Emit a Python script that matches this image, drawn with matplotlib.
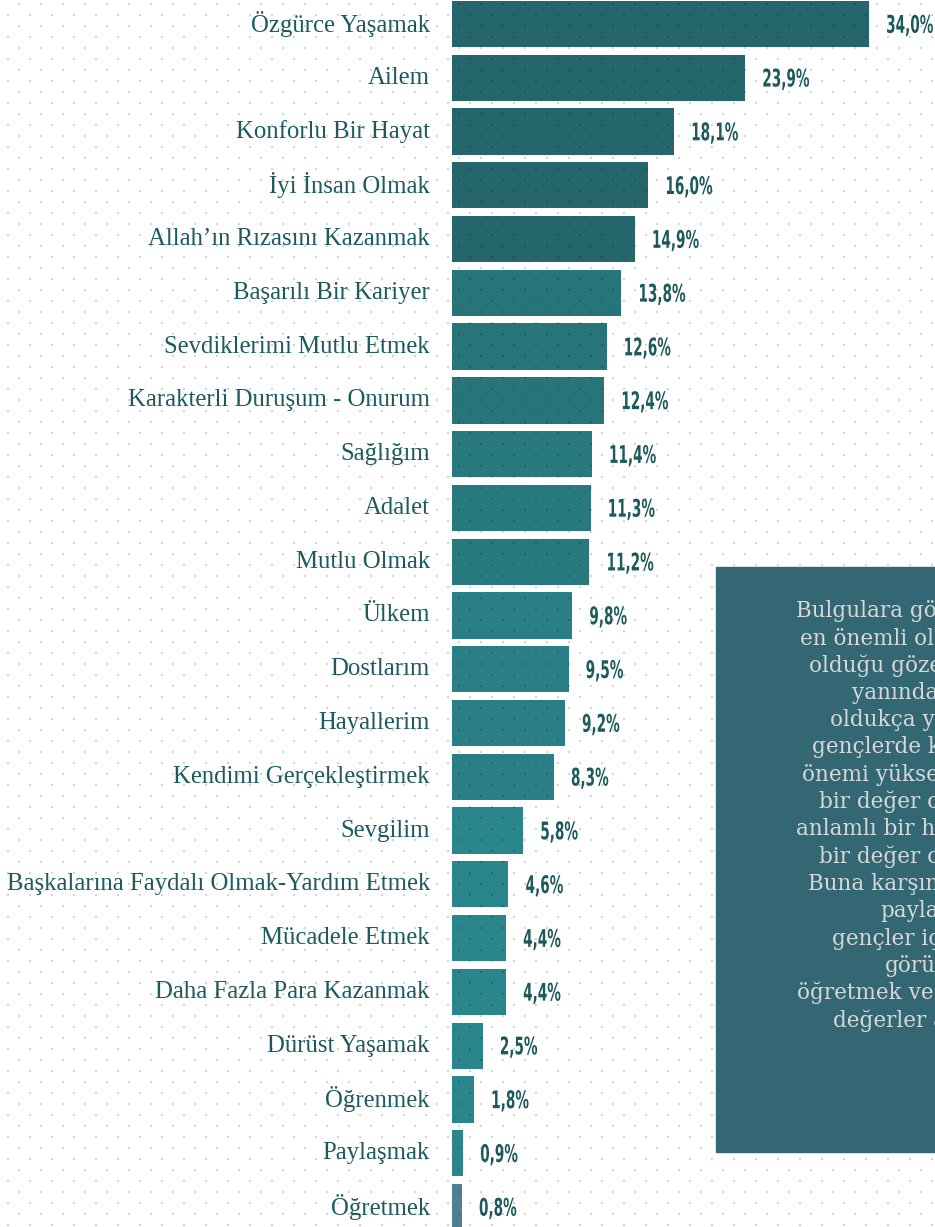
import numpy as np
import matplotlib.pyplot as plt
import matplotlib.transforms as mtransforms
from matplotlib.patches import Rectangle, PathPatch
from matplotlib.textpath import TextPath
from matplotlib.font_manager import FontProperties

labels = ['Özgürce Yaşamak', 'Ailem', 'Konforlu Bir Hayat', 'İyi İnsan Olmak',
          'Allah’ın Rızasını Kazanmak', 'Başarılı Bir Kariyer', 'Sevdiklerimi Mutlu Etmek',
          'Karakterli Duruşum - Onurum', 'Sağlığım', 'Adalet', 'Mutlu Olmak', 'Ülkem',
          'Dostlarım', 'Hayallerim', 'Kendimi Gerçekleştirmek', 'Sevgilim',
          'Başkalarına Faydalı Olmak-Yardım Etmek', 'Mücadele Etmek',
          'Daha Fazla Para Kazanmak', 'Dürüst Yaşamak', 'Öğrenmek', 'Paylaşmak', 'Öğretmek']
values = [34.0, 23.9, 18.1, 16.0, 14.9, 13.8, 12.6, 12.4, 11.4, 11.3, 11.2, 9.8,
          9.5, 9.2, 8.3, 5.8, 4.6, 4.4, 4.4, 2.5, 1.8, 0.9, 0.8]
colors = ['#24666b'] * 5 + ['#27747a'] * 3 + ['#28797e'] * 3 + ['#2a7f86'] * 4 \
         + ['#2b858d'] * 7 + ['#4e8190']

box_lines = ['Bulgulara göre gençler için', 'en önemli olan değerin', 'olduğu göze çarpmaktadır.',
             'yanında ailenin', 'oldukça yüksek', 'gençlerde konforlu', 'önemi yüksek',
             'bir değer olarak', 'anlamlı bir hayat', 'bir değer olarak', 'Buna karşın',
             'paylaşmak', 'gençler için', 'görünmektedir', 'öğretmek ve öğrenmek',
             'değerler arasında']
box_x = [796, 800, 809, 852, 830, 812, 802, 819, 796, 819, 808, 880, 832, 885, 797, 833]

W, H = 935, 1227
DPI = 100
fig = plt.figure(figsize=(W / DPI, H / DPI), dpi=DPI)
fig.patch.set_facecolor('white')

# bar axes
pitch = 53.77
n = len(values)
top_px = 24 - pitch / 2
bot_px = top_px + n * pitch
ax = fig.add_axes([452 / W, (H - bot_px) / H, 417 / W, n * pitch / H])
ax.set_xlim(0, 34)
ax.set_ylim(n - 0.5, -0.5)
ax.axis('off')
ax.patch.set_alpha(0)

y = np.arange(n)
ax.barh(y, values, height=0.86, color=colors, zorder=1)

# condensed value labels: DejaVu Sans Bold squeezed horizontally
vfont = FontProperties(family='DejaVu Sans', weight='bold')
vsize = 17.5
for i, (lab, v) in enumerate(zip(labels, values)):
    ax.text(-1.8, i, lab, ha='right', va='center', fontsize=17.8, color='#1e5b5e',
            family='Liberation Serif', clip_on=False)
    tp = TextPath((0, -0.36 * vsize), f'{v:.1f}%'.replace('.', ','), size=vsize, prop=vfont)
    tr = mtransforms.Affine2D().scale(0.56 * DPI / 72, DPI / 72) \
        + mtransforms.ScaledTranslation(v + 1.4, i, ax.transData)
    ax.add_patch(PathPatch(tp, transform=tr, color='#1d5a5c', lw=0, clip_on=False))

# dotted background pattern
bg = fig.add_axes([0, 0, 1, 1], zorder=2)
bg.set_xlim(0, W)
bg.set_ylim(H, 0)
bg.axis('off')
bg.patch.set_alpha(0)
rows = np.arange(4, H, 11)
xs, ys = [], []
for k, r in enumerate(rows):
    start = 19 if k % 2 == 0 else 8
    cols = np.arange(start, W, 22)
    xs.extend(cols)
    ys.extend([r] * len(cols))
bg.scatter(xs, ys, s=3, marker='s', color='black', alpha=0.17, linewidths=0)

# text box
box = fig.add_axes([0, 0, 1, 1], zorder=3)
box.set_xlim(0, W)
box.set_ylim(H, 0)
box.axis('off')
box.patch.set_alpha(0)
box.add_patch(Rectangle((716, 567), 300, 585, color='#336773'))
for i, (t, x0) in enumerate(zip(box_lines, box_x)):
    box.text(x0, 611 + 27.3 * i, t, ha='left', va='center', fontsize=15.5,
             color='#d8d8d8', family='DejaVu Serif')

fig.savefig('out.png', dpi=DPI)
